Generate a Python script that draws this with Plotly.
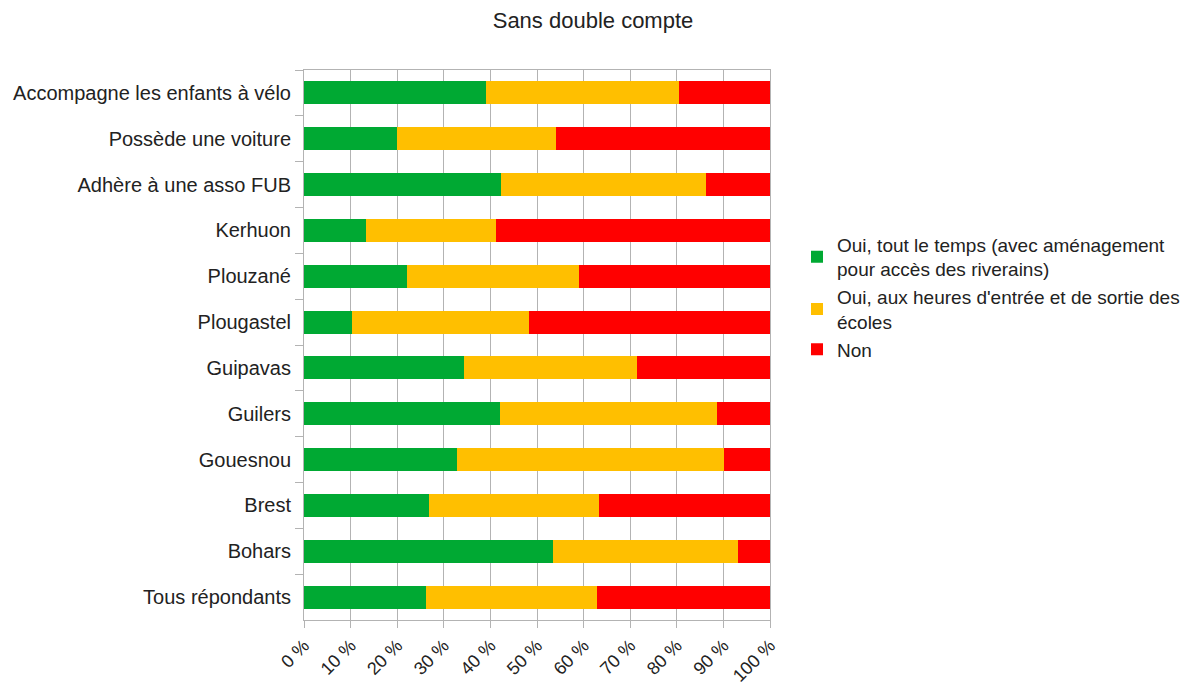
import plotly.graph_objects as go

categories = [
    "Accompagne les enfants à vélo",
    "Possède une voiture",
    "Adhère à une asso FUB",
    "Kerhuon",
    "Plouzané",
    "Plougastel",
    "Guipavas",
    "Guilers",
    "Gouesnou",
    "Brest",
    "Bohars",
    "Tous répondants",
]
oui_tout_le_temps = [39.0, 20.0, 42.3, 13.2, 22.2, 10.4, 34.3, 42.1, 32.8, 26.9, 53.4, 26.2]
oui_heures_ecole = [41.5, 34.0, 44.0, 28.0, 36.9, 37.9, 37.2, 46.6, 57.4, 36.3, 39.8, 36.7]
non = [19.5, 46.0, 13.7, 58.8, 40.9, 51.7, 28.5, 11.3, 9.8, 36.8, 6.8, 37.1]

series_names = [
    "Oui, tout le temps (avec aménagement<br>pour accès des riverains)",
    "Oui, aux heures d'entrée et de sortie des<br>écoles",
    "Non",
]
series_values = [oui_tout_le_temps, oui_heures_ecole, non]
colors = ["#00a933", "#ffbf00", "#ff0000"]
x_ticks = [0, 10, 20, 30, 40, 50, 60, 70, 80, 90, 100]

fig = go.Figure()
for name, vals, col in zip(series_names, series_values, colors):
    fig.add_trace(go.Bar(
        y=categories, x=vals, name=name, orientation="h",
        marker=dict(color=col, line=dict(width=0)),
        width=0.5,
    ))

font_family = "Liberation Sans, Arial, sans-serif"
txt = "#222222"
fig.update_layout(
    barmode="stack",
    width=1203, height=686,
    margin=dict(l=304, r=433, t=70, b=66),
    paper_bgcolor="white", plot_bgcolor="white",
    font=dict(family=font_family, size=20, color=txt),
    title=dict(text="Sans double compte", x=593/1203, xanchor="center",
               y=1 - 20/686, yanchor="middle", font=dict(size=22, color=txt)),
    showlegend=True,
    legend=dict(
        xref="container", yref="container",
        x=797/1203, xanchor="left",
        y=1 - 297/686, yanchor="middle",
        font=dict(size=19, color=txt),
        traceorder="normal",
        itemwidth=30, tracegroupgap=0,
        bgcolor="rgba(0,0,0,0)",
    ),
    xaxis=dict(
        range=[0, 100], tickvals=x_ticks, ticktext=[f"{v} %" for v in x_ticks],
        tickangle=-45, showgrid=True, gridcolor="#b3b3b3", gridwidth=1,
        ticks="outside", ticklen=7, tickcolor="#b3b3b3",
        showline=True, linecolor="#b3b3b3", mirror=True,
        zeroline=False, tickfont=dict(size=18), automargin=False,
    ),
    yaxis=dict(
        categoryorder="array", categoryarray=categories, autorange="reversed",
        ticks="outside", tickson="boundaries", ticklen=8, tickcolor="#b3b3b3",
        showline=True, linecolor="#b3b3b3", mirror=True, showgrid=False,
        tickfont=dict(size=20), ticklabelstandoff=8, automargin=False,
    ),
)
fig.write_html("out.html")
